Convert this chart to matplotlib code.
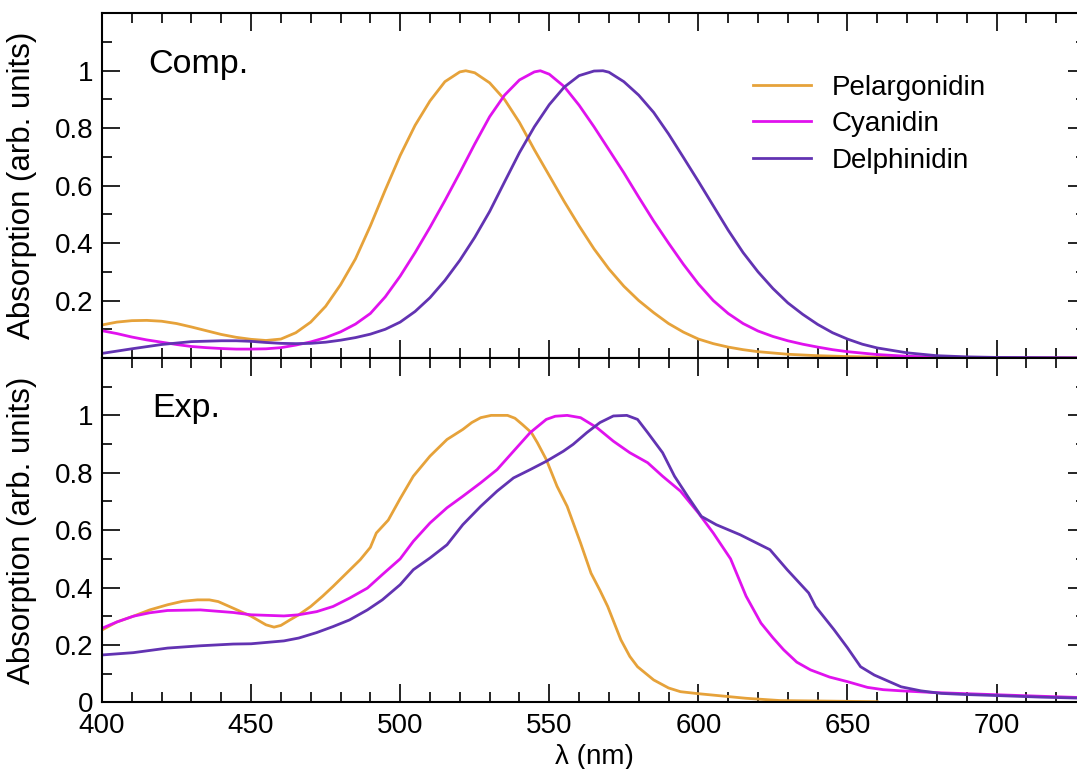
import matplotlib
matplotlib.use("Agg")
import matplotlib.pyplot as plt
from matplotlib.ticker import MultipleLocator, FixedLocator

plt.rcParams['font.family'] = ['Liberation Sans', 'DejaVu Sans']

# ---- computed spectra ----
comp_pel_x = [400, 405, 410, 415, 420, 425, 430, 435, 440, 445, 450, 455, 460, 465, 470, 475,
              480, 485, 490, 495, 500, 505, 510, 515, 520, 522, 525, 530, 535, 540, 545, 550,
              555, 560, 565, 570, 575, 580, 585, 590, 595, 600, 605, 610, 615, 620, 630, 640,
              650, 660, 680, 700, 730]
comp_pel_y = [0.115, 0.125, 0.13, 0.131, 0.128, 0.12, 0.108, 0.095, 0.082, 0.072, 0.065, 0.061,
              0.066, 0.088, 0.125, 0.18, 0.255, 0.345, 0.46, 0.585, 0.705, 0.81, 0.895, 0.962,
              0.996, 1.0, 0.993, 0.958, 0.9, 0.82, 0.725, 0.635, 0.545, 0.46, 0.38, 0.31,
              0.25, 0.2, 0.158, 0.12, 0.09, 0.066, 0.05, 0.038, 0.029, 0.022, 0.013, 0.008,
              0.005, 0.003, 0.001, 0.0, 0.0]

comp_cya_x = [400, 405, 410, 415, 420, 425, 430, 435, 440, 445, 450, 455, 460, 465, 470, 475,
              480, 485, 490, 495, 500, 505, 510, 515, 520, 525, 530, 535, 540, 545, 547, 550,
              555, 560, 565, 570, 575, 580, 585, 590, 595, 600, 605, 610, 615, 620, 625, 630,
              635, 640, 645, 650, 660, 670, 680, 700, 730]
comp_cya_y = [0.095, 0.085, 0.073, 0.063, 0.055, 0.047, 0.04, 0.036, 0.033, 0.031, 0.031, 0.032,
              0.036, 0.045, 0.056, 0.071, 0.091, 0.118, 0.155, 0.213, 0.285, 0.367, 0.455, 0.548,
              0.645, 0.745, 0.84, 0.915, 0.968, 0.996, 1.0, 0.988, 0.945, 0.88, 0.805, 0.725,
              0.645, 0.56, 0.477, 0.40, 0.326, 0.258, 0.2, 0.155, 0.12, 0.094, 0.075, 0.06,
              0.048, 0.038, 0.029, 0.022, 0.012, 0.006, 0.003, 0.001, 0.0]

comp_del_x = [400, 410, 420, 430, 440, 445, 450, 455, 460, 465, 470, 475, 480, 485, 490, 495,
              500, 505, 510, 515, 520, 525, 530, 535, 540, 545, 550, 555, 560, 565, 568, 570,
              575, 580, 585, 590, 595, 600, 605, 610, 615, 620, 625, 630, 635, 640, 645, 650,
              655, 660, 670, 680, 690, 700, 730]
comp_del_y = [0.016, 0.032, 0.047, 0.057, 0.06, 0.06, 0.058, 0.054, 0.051, 0.05, 0.051, 0.055,
              0.062, 0.071, 0.083, 0.1, 0.125, 0.162, 0.21, 0.27, 0.34, 0.42, 0.51, 0.613,
              0.715, 0.805, 0.882, 0.943, 0.983, 0.999, 1.0, 0.995, 0.962, 0.915, 0.855, 0.78,
              0.698, 0.615, 0.53, 0.445, 0.367, 0.3, 0.242, 0.192, 0.152, 0.117, 0.088, 0.066,
              0.048, 0.035, 0.018, 0.008, 0.004, 0.002, 0.0]

# ---- measured spectra ----
exp_pel_x = [400, 405, 410.5, 416, 422, 427, 432, 436, 439, 444, 450, 455, 457.7, 460, 463, 466,
             470, 474, 477.5, 482, 486.6, 490, 492, 496, 500, 504.4, 510, 515.7, 521, 524, 527,
             530.5, 536, 538.5, 541, 544, 546, 549, 552.6, 556, 560.5, 564, 567, 569.6, 574,
             577, 579.6, 585, 590, 594, 600, 605, 616, 627.5, 645, 660]
exp_pel_y = [0.252, 0.28, 0.30, 0.322, 0.34, 0.352, 0.357, 0.357, 0.351, 0.328, 0.30, 0.27,
             0.262, 0.268, 0.287, 0.305, 0.334, 0.37, 0.404, 0.45, 0.497, 0.54, 0.59, 0.635,
             0.71, 0.788, 0.858, 0.916, 0.951, 0.975, 0.992, 1.0, 1.0, 0.99, 0.968, 0.94,
             0.905, 0.846, 0.753, 0.683, 0.555, 0.45, 0.39, 0.334, 0.218, 0.16, 0.124, 0.078,
             0.05, 0.037, 0.03, 0.025, 0.014, 0.006, 0.004, 0.002]

exp_cya_x = [400, 405, 410.5, 416, 422, 433, 444, 450, 461, 466, 472, 477.5, 483, 489, 494,
             500, 504.4, 510, 515.7, 521, 527, 532.5, 538, 543.6, 549, 552, 556, 560.5, 566,
             571.5, 577, 583, 588, 594, 600, 605, 610.8, 616, 621, 625, 628.6, 633, 637.6,
             644, 650, 656.7, 662, 668, 679, 690, 701, 715, 730]
exp_cya_y = [0.258, 0.28, 0.30, 0.312, 0.32, 0.322, 0.313, 0.305, 0.301, 0.305, 0.316, 0.334,
             0.363, 0.398, 0.445, 0.50, 0.561, 0.625, 0.678, 0.718, 0.765, 0.811, 0.875, 0.94,
             0.986, 0.997, 1.0, 0.992, 0.957, 0.91, 0.87, 0.835, 0.788, 0.736, 0.66, 0.59,
             0.50, 0.37, 0.276, 0.225, 0.183, 0.14, 0.113, 0.088, 0.072, 0.052, 0.044, 0.04,
             0.034, 0.03, 0.026, 0.021, 0.016]

exp_del_x = [400, 410.5, 422, 433, 444, 450, 461, 466, 472, 477.5, 483, 489, 494, 500, 504.4,
             510, 515.7, 521, 527, 532.5, 538, 543.6, 549, 554.7, 558, 562.6, 567, 571.5, 576,
             579.6, 583, 588, 592, 596.4, 601, 606, 614, 624, 629.8, 637, 639.3, 645.5, 650,
             654.4, 659, 668, 674.6, 681.4, 690, 701.5, 715, 730]
exp_del_y = [0.165, 0.173, 0.189, 0.197, 0.203, 0.204, 0.214, 0.224, 0.243, 0.264, 0.287,
             0.322, 0.357, 0.41, 0.462, 0.503, 0.549, 0.619, 0.683, 0.736, 0.782, 0.811, 0.84,
             0.875, 0.899, 0.94, 0.975, 0.998, 1.0, 0.986, 0.94, 0.87, 0.788, 0.718, 0.648,
             0.619, 0.584, 0.532, 0.462, 0.381, 0.334, 0.253, 0.19, 0.124, 0.095, 0.054, 0.04,
             0.031, 0.027, 0.023, 0.018, 0.014]

names = ['Pelargonidin', 'Cyanidin', 'Delphinidin']
colors = ['#E6A23A', '#E012EE', '#6233B2']

x_ticks = [400, 450, 500, 550, 600, 650, 700]
top_yticks = [0.2, 0.4, 0.6, 0.8, 1.0]
top_ylabels = ['0.2', '0.4', '0.6', '0.8', '1']
bot_yticks = [0, 0.2, 0.4, 0.6, 0.8, 1.0]
bot_ylabels = ['0', '0.2', '0.4', '0.6', '0.8', '1']

W, H = 1077, 769
fig = plt.figure(figsize=(W / 100, H / 100), dpi=100)

left = 102 / W
width = (1086 - 102) / W
ax_top = fig.add_axes([left, 1 - 358 / H, width, (358 - 13.3) / H])
ax_bot = fig.add_axes([left, 1 - 702.3 / H, width, (702.3 - 358) / H])

lw = 2.0
comp = [(comp_pel_x, comp_pel_y), (comp_cya_x, comp_cya_y), (comp_del_x, comp_del_y)]
meas = [(exp_pel_x, exp_pel_y), (exp_cya_x, exp_cya_y), (exp_del_x, exp_del_y)]
for (x, y), c, n in zip(comp, colors, names):
    ax_top.plot(x, y, color=c, lw=lw, label=n, solid_joinstyle='round')
for (x, y), c in zip(meas, colors):
    ax_bot.plot(x, y, color=c, lw=lw, solid_joinstyle='round')

for ax in (ax_top, ax_bot):
    ax.set_xlim(400, 730)
    ax.set_ylim(0, 1.2)
    ax.xaxis.set_major_locator(FixedLocator(x_ticks))
    ax.xaxis.set_minor_locator(MultipleLocator(10))
    ax.yaxis.set_minor_locator(MultipleLocator(0.1))
    ax.tick_params(which='both', direction='in', top=True, right=True, width=1.2,
                   labelsize=20, color='black')
    ax.tick_params(which='major', length=13)
    ax.tick_params(which='minor', length=7)
    ax.tick_params(axis='y', pad=6)
    ax.tick_params(axis='x', pad=8)
    for s in ax.spines.values():
        s.set_linewidth(1.5)
    ax.set_ylabel('Absorption (arb. units)', fontsize=22.5)
    ax.yaxis.set_label_coords(-0.066, 0.5)

ax_top.set_yticks(top_yticks)
ax_top.set_yticklabels(top_ylabels)
ax_top.tick_params(axis='x', labelbottom=False)
ax_bot.set_yticks(bot_yticks)
ax_bot.set_yticklabels(bot_ylabels)
ax_bot.set_xticklabels([str(v) for v in x_ticks])
ax_bot.set_xlabel('λ (nm)', fontsize=20, labelpad=3)

ax_top.text(0.0467, 0.826, 'Comp.', transform=ax_top.transAxes, fontsize=24.5,
            va='baseline', ha='left')
ax_bot.text(0.0508, 0.830, 'Exp.', transform=ax_bot.transAxes, fontsize=24.5,
            va='baseline', ha='left')

ax_top.legend(loc='upper left', bbox_to_anchor=(0.6616, 0.822), frameon=False,
              fontsize=20, handlelength=2.1, handletextpad=0.72, labelspacing=0.376,
              borderpad=0, borderaxespad=0)

fig.savefig('out.png', dpi=100)
